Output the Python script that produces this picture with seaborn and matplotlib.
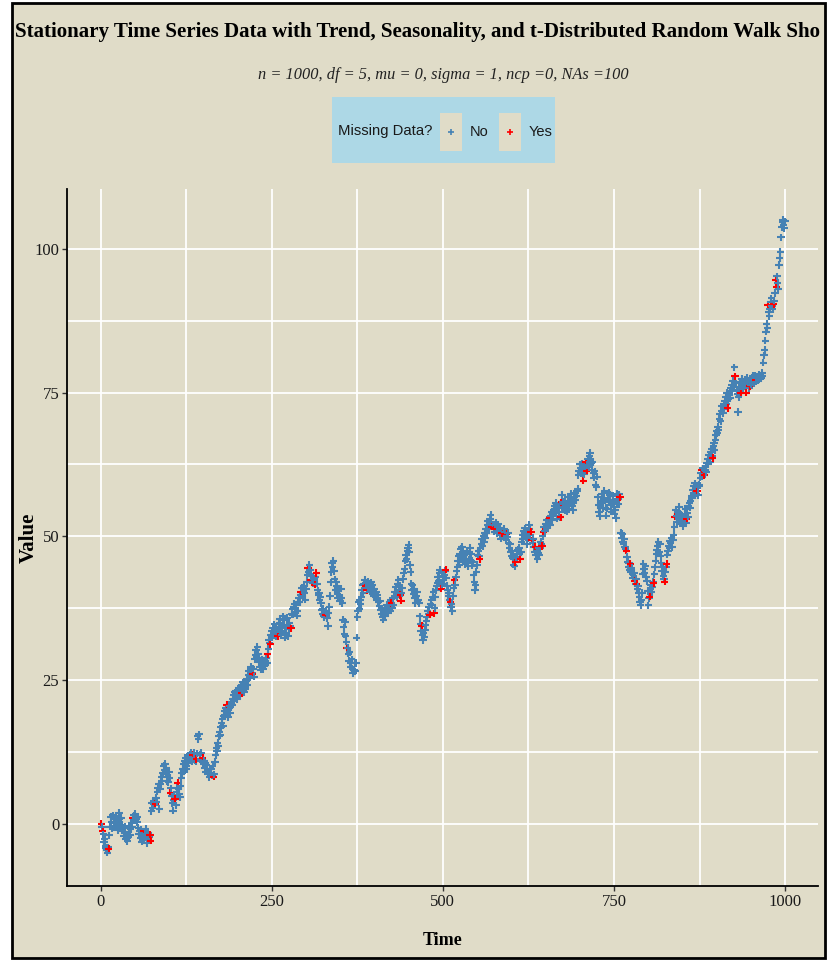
import numpy as np
import pandas as pd
import matplotlib
matplotlib.use("Agg")
import matplotlib.pyplot as plt
import matplotlib.patches as mpatches
from matplotlib.lines import Line2D
from matplotlib.ticker import FixedLocator
from matplotlib import font_manager
import seaborn as sns

# ---- texts / ticks ----
title_text = "Stationary Time Series Data with Trend, Seasonality, and t-Distributed Random Walk Sho"
subtitle_text = "n = 1000, df = 5, mu = 0, sigma = 1, ncp =0, NAs =100"
legend_title = "Missing Data?"
legend_labels = ["No", "Yes"]
x_label = "Time"
y_label = "Value"
x_ticks = [0, 250, 500, 750, 1000]
y_ticks = [0, 25, 50, 75, 100]

# ---- series (one value per time step, 1..1000) ----
value = [
    0.0, -0.5, -1.3, -1.8, -3.2, -2.6, -3.8, -4.2, -4.6, -5.0,
    -4.1, -4.3, -2.0, -0.5, 1.2, 0.4, -0.8, 1.5, 0.2, -0.6,
    0.8, -0.3, 1.4, 0.6, -1.1, 0.3, 1.9, 0.9, -0.4, 1.1,
    -0.2, -1.2, -0.8, -2.1, -1.5, -0.4, -2.6, -1.9, -3.0, -2.2,
    -1.4, -0.6, -2.0, -0.9, 0.2, -0.5, 1.1, 0.7, 1.5, 0.6,
    1.8, 0.9, 0.3, 1.2, -0.7, -1.8, -1.2, -2.4, -1.0, -3.1,
    -2.2, -1.5, -1.3, -2.8, -1.7, -0.9, -2.0, -3.4, -2.5, -1.6,
    -2.3, -1.9, -2.9, 2.2, 3.6, 2.8, 3.9, 3.4, 3.7, 3.5,
    4.5, 3.8, 5.6, 6.3, 6.9, 2.6, 6.1, 7.0, 8.2, 7.5,
    8.9, 10.1, 9.4, 10.5, 8.6, 9.8, 7.4, 8.1, 7.2, 9.0,
    8.0, 5.4, 6.2, 4.8, 3.6, 2.3, 4.1, 5.0, 4.4, 3.2,
    5.6, 6.3, 7.1, 6.0, 5.2, 4.6, 6.6, 8.0, 8.8, 9.6,
    10.4, 9.2, 10.9, 11.5, 10.1, 9.5, 11.2, 10.6, 11.8, 12.1,
    11.0, 12.4, 11.6, 10.8, 12.0, 11.4, 12.3, 11.1, 10.9, 11.3,
    12.2, 15.2, 14.7, 15.6, 12.0, 11.2, 12.4, 10.9, 11.5, 10.4,
    11.0, 9.8, 10.6, 9.1, 10.2, 9.4, 8.6, 9.0, 8.1, 9.6,
    8.8, 9.5, 8.4, 10.0, 8.2, 8.6, 10.8, 12.0, 13.2, 12.6,
    14.1, 13.5, 15.2, 16.0, 15.4, 16.8, 17.5, 18.3, 17.1, 18.8,
    19.6, 18.9, 20.1, 20.7, 19.4, 18.6, 19.9, 20.5, 19.2, 20.3,
    21.2, 20.6, 21.8, 22.4, 21.5, 22.9, 21.9, 23.1, 22.3, 21.7,
    22.8, 23.6, 22.2, 23.4, 24.0, 22.7, 23.3, 24.6, 23.8, 22.9,
    24.3, 23.5, 24.8, 25.2, 24.1, 25.9, 26.6, 25.4, 26.9, 27.3,
    26.2, 26.1, 27.0, 25.6, 28.6, 29.4, 30.2, 29.0, 30.8, 29.6,
    28.8, 28.1, 27.2, 26.8, 27.9, 28.5, 27.4, 26.9, 28.2, 27.6,
    28.4, 28.9, 28.0, 29.5, 30.4, 32.0, 31.5, 31.2, 32.8, 33.5,
    32.4, 34.1, 33.2, 34.7, 33.8, 32.6, 34.3, 33.0, 32.6, 33.9,
    34.9, 35.6, 33.5, 32.8, 34.2, 35.4, 36.1, 34.6, 33.2, 32.4,
    33.1, 34.5, 35.8, 32.6, 33.9, 35.0, 34.4, 34.0, 36.5, 37.3,
    36.4, 37.8, 38.3, 36.9, 37.5, 38.0, 36.2, 37.1, 38.6, 39.2,
    38.5, 39.8, 40.4, 41.0, 39.6, 40.7, 41.3, 40.1, 39.0, 40.9,
    42.0, 43.3, 44.5, 43.8, 45.0, 44.2, 42.4, 43.1, 42.0, 41.9,
    43.0, 42.6, 41.6, 42.9, 43.6, 41.8, 40.6, 39.8, 40.2, 38.9,
    39.5, 38.4, 37.2, 36.5, 37.4, 36.1, 35.9, 36.8, 36.3, 37.0,
    35.8, 34.4, 36.6, 37.8, 39.6, 42.0, 43.8, 45.3, 44.6, 45.8,
    44.0, 42.5, 40.7, 42.1, 41.4, 40.0, 39.2, 40.5, 39.6, 38.7,
    40.9, 39.3, 38.4, 35.5, 34.2, 33.0, 35.1, 32.6, 31.7, 30.5,
    30.6, 29.6, 28.4, 29.9, 28.0, 27.3, 28.6, 27.0, 26.2, 26.8,
    27.9, 26.5, 28.0, 32.4, 36.0, 37.1, 38.6, 37.4, 39.0, 38.2,
    39.4, 40.6, 41.5, 40.2, 41.8, 42.4, 41.3, 41.9, 40.6, 41.1,
    42.2, 41.0, 40.4, 41.7, 42.0, 40.8, 41.5, 40.0, 39.6, 40.9,
    40.2, 39.5, 40.4, 39.0, 39.8, 38.6, 37.9, 38.8, 37.2, 36.5,
    37.4, 36.0, 35.5, 36.8, 37.6, 36.2, 37.0, 38.1, 37.3, 36.6,
    37.8, 38.5, 37.1, 38.9, 38.4, 37.6, 39.2, 38.0, 39.6, 40.4,
    41.2, 40.0, 39.4, 41.8, 42.4, 40.7, 41.5, 39.8, 38.8, 40.1,
    41.0, 42.6, 43.6, 44.3, 45.8, 46.7, 46.0, 47.4, 48.0, 48.5,
    47.2, 45.0, 43.8, 41.8, 40.6, 41.5, 39.9, 40.8, 39.2, 38.4,
    39.6, 40.3, 38.7, 39.0, 38.4, 36.1, 34.8, 33.6, 34.4, 32.8,
    32.0, 33.2, 32.5, 33.8, 34.6, 35.2, 36.0, 37.1, 36.5, 37.8,
    36.4, 38.3, 39.0, 38.0, 39.5, 40.3, 36.6, 37.5, 39.4, 40.6,
    41.3, 41.9, 43.0, 42.3, 43.6, 44.2, 42.0, 40.9, 41.7, 43.1,
    42.4, 43.3, 44.0, 44.2, 42.8, 41.4, 40.6, 39.7, 40.2, 38.9,
    38.6, 37.8, 38.3, 37.0, 39.6, 41.0, 42.4, 41.6, 42.9, 43.9,
    44.6, 45.8, 46.5, 45.1, 46.9, 47.8, 46.2, 48.2, 47.0, 46.4,
    45.6, 46.8, 45.2, 46.1, 47.5, 45.4, 44.8, 46.0, 47.2, 48.0,
    46.9, 45.7, 44.9, 45.5, 43.2, 42.0, 40.7, 41.5, 43.8, 45.0,
    46.8, 47.5, 46.6, 46.0, 47.9, 48.7, 49.5, 48.3, 50.1, 49.0,
    50.6, 49.8, 51.2, 50.5, 51.9, 52.6, 51.3, 52.2, 53.0, 53.7,
    52.5, 51.7, 52.0, 51.5, 50.8, 51.9, 52.4, 51.2, 50.6, 51.6,
    52.1, 50.9, 51.4, 50.2, 49.6, 50.6, 51.0, 50.5, 49.8, 51.3,
    50.7, 49.5, 50.4, 49.9, 50.6, 48.9, 48.0, 48.6, 47.3, 46.5,
    47.4, 46.2, 45.1, 46.0, 44.8, 45.5, 46.3, 47.0, 46.4, 47.6,
    48.0, 46.9, 46.0, 47.3, 49.1, 50.2, 49.5, 51.0, 50.3, 51.4,
    49.8, 50.6, 48.7, 49.6, 50.9, 52.0, 51.3, 50.2, 50.8, 49.3,
    48.8, 49.6, 48.1, 47.2, 48.2, 46.8, 47.5, 46.0, 47.1, 48.0,
    46.7, 47.9, 49.0, 48.6, 48.3, 50.0, 50.8, 51.6, 50.9, 52.2,
    51.5, 52.9, 51.8, 52.5, 53.0, 53.2, 52.0, 53.6, 54.3, 52.8,
    53.9, 54.6, 55.2, 54.0, 55.8, 54.4, 53.1, 54.9, 55.5, 54.2,
    53.3, 53.3, 55.9, 57.2, 56.0, 55.1, 55.6, 54.6, 56.2, 55.0,
    54.3, 55.4, 56.8, 55.7, 54.8, 56.5, 57.4, 56.1, 55.3, 54.6,
    55.9, 56.9, 57.5, 56.3, 57.0, 57.8, 58.3, 60.6, 61.4, 62.5,
    61.8, 60.9, 62.6, 61.0, 59.7, 60.8, 62.2, 61.7, 63.0, 61.4,
    62.4, 63.5, 62.0, 63.9, 64.5, 63.2, 62.7, 61.6, 62.9, 61.0,
    60.2, 61.3, 59.0, 58.6, 60.4, 56.8, 55.4, 54.2, 53.5, 55.0,
    56.1, 57.3, 55.8, 54.9, 56.6, 57.9, 56.2, 55.0, 53.6, 54.8,
    56.4, 57.6, 56.0, 57.2, 55.5, 54.3, 55.9, 57.0, 56.3, 55.1,
    53.9, 54.6, 53.2, 56.0, 57.4, 56.5, 55.6, 57.3, 56.8, 50.6,
    49.8, 50.4, 49.1, 48.6, 49.6, 48.2, 47.8, 47.5, 46.4, 45.6,
    44.7, 45.3, 44.2, 45.2, 43.8, 44.5, 43.4, 42.8, 43.6, 42.3,
    41.8, 42.6, 41.7, 40.8, 41.3, 40.1, 39.4, 38.6, 38.0, 38.9,
    40.2, 43.5, 45.2, 44.4, 43.6, 44.8, 43.0, 42.2, 40.5, 38.0,
    39.2, 39.5, 40.8, 41.6, 40.3, 41.2, 42.1, 41.9, 43.4, 44.6,
    45.8, 46.9, 47.6, 48.3, 49.1, 47.2, 48.6, 46.5, 45.3, 43.9,
    44.6, 43.1, 42.5, 42.1, 43.8, 44.7, 45.2, 46.8, 47.5, 48.4,
    47.9, 49.2, 48.8, 49.7, 48.1, 49.4, 50.3, 51.6, 53.4, 54.5,
    53.6, 52.5, 54.2, 53.0, 55.1, 54.0, 52.8, 53.7, 52.2, 53.3,
    51.8, 52.6, 53.9, 54.8, 52.4, 53.1, 54.1, 53.4, 55.3, 55.8,
    55.0, 56.2, 57.1, 56.6, 58.0, 57.5, 58.7, 59.2, 58.3, 57.4,
    57.9, 58.5, 57.2, 59.0, 58.8, 60.2, 61.0, 61.5, 60.4, 61.8,
    60.9, 60.6, 61.6, 62.3, 61.2, 62.8, 63.5, 62.6, 64.1, 63.0,
    64.6, 65.2, 64.0, 63.6, 65.7, 66.2, 65.0, 66.8, 67.6, 68.4,
    67.9, 69.1, 68.5, 70.4, 71.2, 70.0, 71.8, 72.6, 71.4, 73.0,
    72.2, 73.6, 74.3, 73.1, 74.9, 72.3, 73.8, 74.5, 75.3, 74.0,
    75.8, 76.4, 75.2, 77.1, 76.0, 79.4, 77.8, 76.6, 75.5, 74.8,
    71.6, 74.2, 75.6, 76.9, 75.0, 76.3, 77.4, 76.1, 75.7, 76.8,
    77.3, 76.5, 75.0, 76.2, 77.6, 76.9, 75.8, 76.1, 77.0, 76.4,
    77.5, 76.7, 77.9, 76.6, 77.2, 78.0, 77.2, 76.9, 77.6, 77.8,
    77.1, 78.2, 77.4, 77.9, 77.5, 78.4, 77.8, 80.2, 81.5, 82.4,
    84.0, 85.6, 87.0, 86.2, 90.2, 89.0, 88.3, 89.6, 90.8, 91.4,
    90.1, 89.5, 90.4, 91.0, 92.3, 94.6, 93.4, 95.2, 94.1, 93.0,
    97.2, 98.4, 99.5, 102.0, 103.8, 104.6, 105.0, 104.2, 103.6, 104.8,
]

# time steps whose value was missing (drawn red)
missing_time = [
    1, 3, 12, 47, 63, 72, 73, 80, 102, 109, 113, 135, 140, 149, 165,
    184, 206, 222, 244, 248, 259, 278, 293, 303, 307, 313, 315, 329,
    360, 387, 389, 425, 438, 439, 469, 481, 487, 498, 504, 511, 517,
    554, 572, 574, 578, 586, 588, 593, 606, 613, 629, 630, 635, 645,
    647, 656, 672, 673, 705, 709, 710, 759, 768, 774, 780, 783, 802,
    808, 824, 827, 839, 856, 871, 878, 882, 894, 916, 927, 935, 943,
    948, 957, 975, 983, 986, 987,
]

bg = "#E0DCC8"
blue = "#4682B4"
red = "#FF0000"


def has_font(name):
    try:
        font_manager.findfont(name, fallback_to_default=False)
        return True
    except ValueError:
        return False


serif = "Liberation Serif"
sans = "Liberation Sans Narrow" if has_font("Liberation Sans Narrow") else "Liberation Sans"
plt.rcParams["font.family"] = [serif, "DejaVu Serif"]

time = np.arange(1, len(value) + 1)
df = pd.DataFrame({"Time": time, "Value": value})
df["Missing"] = np.where(np.isin(time, missing_time), "Yes", "No")

fig = plt.figure(figsize=(8.4, 9.61), dpi=100, facecolor="white")
W, H = 840.0, 961.0

# outer frame of the plot
frame = mpatches.Rectangle((12 / W, 3 / H), (825 - 12) / W, (958 - 3) / H,
                           transform=fig.transFigure, facecolor=bg,
                           edgecolor="black", linewidth=2, zorder=-2)
fig.add_artist(frame)

ax = fig.add_axes([67 / W, 75 / H, (818 - 67) / W, (886 - 189) / H])
ax.set_facecolor(bg)

sns.scatterplot(data=df, x="Time", y="Value", hue="Missing",
                palette={"No": blue, "Yes": red}, marker="+", s=28,
                linewidth=1.5, legend=False, ax=ax, zorder=3)

ax.set_xlim(-49, 1048)
ax.set_ylim(-10.8, 110.4)
ax.set_xticks(x_ticks)
ax.set_yticks(y_ticks)
ax.xaxis.set_minor_locator(FixedLocator([125, 375, 625, 875]))
ax.yaxis.set_minor_locator(FixedLocator([12.5, 37.5, 62.5, 87.5]))
ax.set_axisbelow(True)
ax.grid(which="both", color="white", linewidth=1.3)
ax.tick_params(which="minor", length=0)
ax.tick_params(which="major", direction="out", length=3.5, width=1, pad=2,
               color="#333333", labelsize=12, labelcolor="#1a1a1a")
for s in ["top", "right"]:
    ax.spines[s].set_visible(False)
for s in ["left", "bottom"]:
    ax.spines[s].set_color("black")
    ax.spines[s].set_linewidth(1.3)

ax.set_xlabel(x_label, fontsize=13, fontweight="bold", labelpad=16)
ax.set_ylabel(y_label, fontsize=15, fontweight="bold")
ax.yaxis.set_label_coords(-0.037, 0.5)

# titles
title = fig.text(15 / W, 1 - 32 / H, title_text, ha="left", va="center",
                 fontsize=20, fontweight="bold", family=serif)
subtitle = fig.text(443 / W, 1 - 75 / H, subtitle_text, ha="center",
                    va="center", fontsize=14, style="italic", family=serif,
                    color="#222222")

# legend band
band = mpatches.Rectangle((332 / W, 1 - 163 / H), (555 - 332) / W, 66 / H,
                          transform=fig.transFigure, facecolor="#ADD8E6",
                          edgecolor="none", zorder=1)
fig.add_artist(band)
leg_title = fig.text(432 / W, 1 - 131 / H, legend_title, ha="right",
                     va="center", fontsize=13, family=sans, color="#1a1a1a",
                     zorder=2)


class KeyHandler:
    # tan key box with the point marker centred in it
    def legend_artist(self, legend, orig_handle, fontsize, handlebox):
        x0, y0 = handlebox.xdescent, handlebox.ydescent
        w, h = handlebox.width, handlebox.height
        box = mpatches.Rectangle((-x0, -y0), w, h, facecolor=bg,
                                 edgecolor="none",
                                 transform=handlebox.get_transform())
        handlebox.add_artist(box)
        mk = Line2D([w / 2 - x0], [h / 2 - y0], marker="+", linestyle="",
                    color=orig_handle.get_color(), markersize=4,
                    markeredgewidth=1.2, transform=handlebox.get_transform())
        handlebox.add_artist(mk)
        return box


handles = [Line2D([], [], color=c) for c in [blue, red]]
leg_fs = 10.5
px = leg_fs * 100 / 72
leg = fig.legend(handles, legend_labels, handler_map={Line2D: KeyHandler()},
                 loc="center left", bbox_to_anchor=(440 / W, 1 - 132 / H),
                 ncol=2, frameon=False, borderpad=0, borderaxespad=0,
                 handlelength=22 / px, handleheight=3.2 * 12 / leg_fs,
                 handletextpad=8 / px, columnspacing=10 / px,
                 prop={"family": sans, "size": leg_fs})
for t in leg.get_texts():
    t.set_color("#1a1a1a")


def fit_width(txt, width_px):
    fig.canvas.draw()
    r = fig.canvas.get_renderer()
    w = txt.get_window_extent(renderer=r).width
    txt.set_fontsize(txt.get_fontsize() * width_px / w)


fit_width(title, 806)
fit_width(subtitle, 370)
fit_width(leg_title, 94)

fig.savefig("out.png", dpi=100, facecolor="white")
